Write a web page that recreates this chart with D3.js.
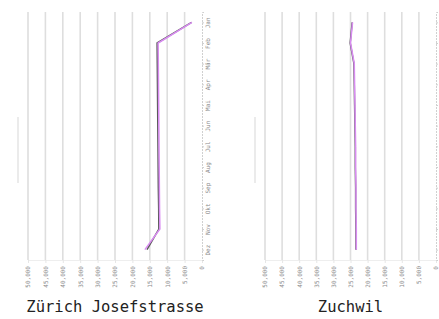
<!DOCTYPE html>
<html lang="de">
<head>
<meta charset="utf-8">
<title>Stationen</title>
<script src="https://cdn.jsdelivr.net/npm/d3@7"></script>
<style>
  body { margin: 0; background: #fff; }
  .tick text { fill: #8a8a8a; font-family: "DejaVu Sans Mono", monospace; font-size: 6px; }
  .title { font-family: "DejaVu Sans Mono", monospace; font-size: 15.5px; fill: #222; }
</style>
</head>
<body>
<svg id="chart" width="439" height="319"></svg>
<script>
// months down the right-hand axis
const months = ["Jan", "Feb", "Mär", "Apr", "Mai", "Jun", "Jul", "Aug", "Sep", "Okt", "Nov", "Dez"];
const xTicks = [0, 5000, 10000, 15000, 20000, 25000, 30000, 35000, 40000, 45000, 50000];

const stations = ["Zürich Josefstrasse", "Zuchwil"];
// violet series per station
const violetZh = [2900, 12600, 12550, 12500, 12450, 12400, 12350, 12300, 12250, 12200, 12100, 16400];
const violetZu = [24400, 25000, 23900, 23800, 23700, 23600, 23500, 23500, 23400, 23400, 23300, 23300];
// grey series (almost identical, lies underneath)
const greyZh = [3000, 12900, 12850, 12800, 12750, 12700, 12650, 12600, 12550, 12450, 12400, 15800];
const greyZu = [24500, 25100, 24000, 23900, 23800, 23700, 23600, 23600, 23500, 23500, 23400, 23400];

const panels = [
  { name: stations[0], violet: violetZh, grey: greyZh, left: 28, right: 202, monthLabels: true },
  { name: stations[1], violet: violetZu, grey: greyZu, left: 265, right: 436, monthLabels: false }
];

const svg = d3.select("#chart");
const plotTop = 12, plotBottom = 260;

panels.forEach(p => {
  const x = d3.scaleLinear().domain([0, 50000]).range([p.right, p.left]);
  const y = d3.scalePoint().domain(months).range([plotTop, plotBottom]).padding(0.5);
  const g = svg.append("g");

  // faint mark left of the plot
  g.append("line")
    .attr("x1", p.left - 10).attr("x2", p.left - 10)
    .attr("y1", 117).attr("y2", 183)
    .attr("stroke", "#e4e4e4").attr("stroke-width", 1.5);

  // vertical gridlines
  g.selectAll(".grid").data(xTicks.slice(1)).enter().append("line")
    .attr("x1", d => x(d)).attr("x2", d => x(d))
    .attr("y1", plotTop).attr("y2", plotBottom)
    .attr("stroke", "#dedede").attr("stroke-width", 1.6);

  // bottom axis, rotated labels
  const xAxis = g.append("g")
    .attr("transform", `translate(0,${plotBottom})`)
    .call(d3.axisBottom(x).tickValues(xTicks).tickFormat(d3.format(",")).tickSize(3));
  xAxis.select(".domain").attr("stroke", "#eee");
  xAxis.selectAll(".tick line").attr("stroke", "#e6e6e6");
  xAxis.selectAll(".tick text")
    .attr("transform", "rotate(-90)")
    .attr("text-anchor", "end")
    .attr("x", -6).attr("y", 0).attr("dy", "0.3em");

  // right axis with months (second panel's labels fall off the page)
  const yAxis = g.append("g")
    .attr("transform", `translate(${p.right},0)`)
    .call(d3.axisRight(y).tickSize(2).tickFormat(p.monthLabels ? null : ""));
  yAxis.select(".domain").attr("stroke", "#d0d0d0").attr("stroke-dasharray", "2,1");
  yAxis.selectAll(".tick line").attr("stroke", "#d0d0d0");
  yAxis.selectAll(".tick text")
    .attr("text-anchor", "middle")
    .attr("x", 0).attr("y", 0).attr("dy", "0.35em")
    .attr("transform", "translate(6,0) rotate(-90)");

  const line = d3.line()
    .x(d => x(d))
    .y((d, i) => y(months[i]));

  g.append("path").datum(p.grey)
    .attr("fill", "none").attr("stroke", "#5a5a5a").attr("stroke-width", 1.5)
    .attr("d", line);
  g.append("path").datum(p.violet)
    .attr("fill", "none").attr("stroke", "#d98cf2").attr("stroke-width", 1.5)
    .attr("d", line);

  g.append("text").attr("class", "title")
    .attr("x", (p.left + p.right) / 2).attr("y", 312)
    .attr("text-anchor", "middle")
    .text(p.name);
});
</script>
</body>
</html>
